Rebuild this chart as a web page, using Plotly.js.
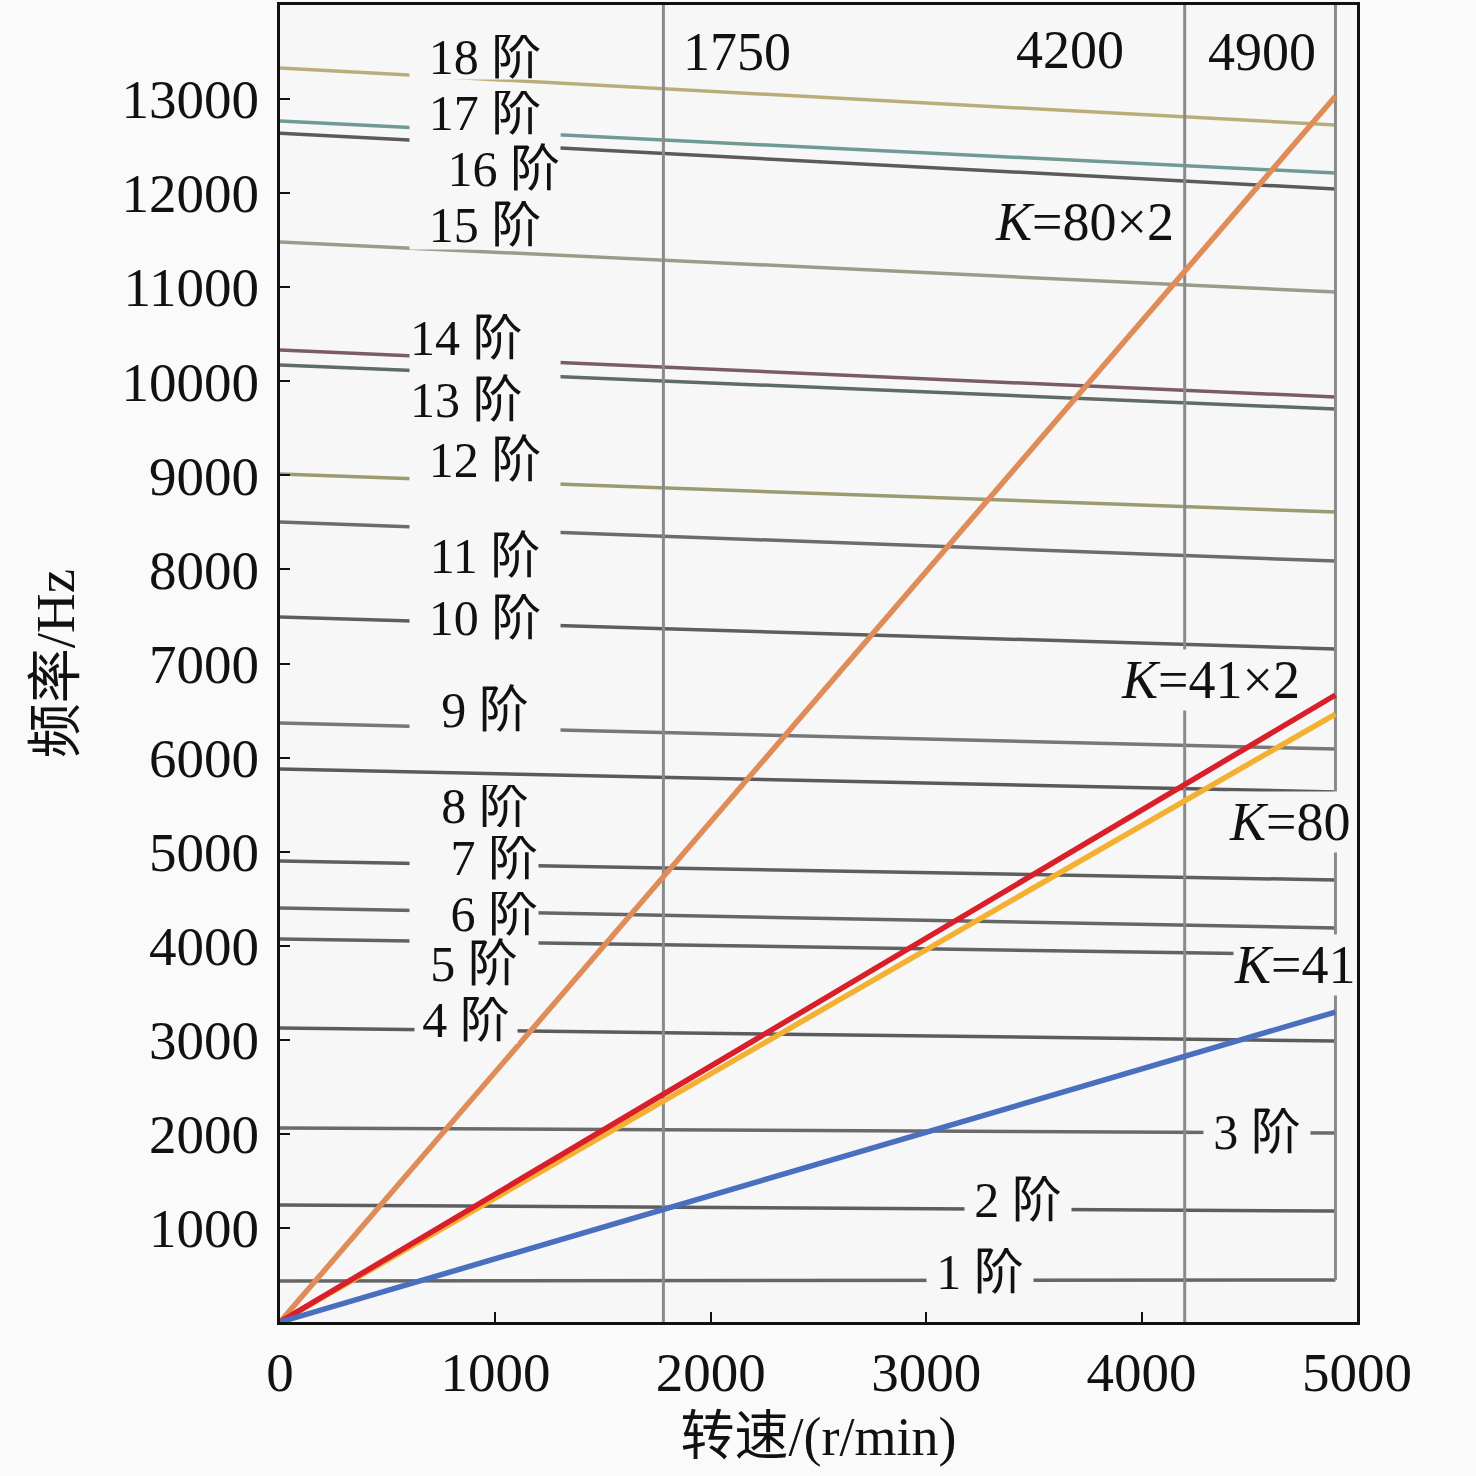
<!DOCTYPE html>
<html>
<head>
<meta charset="utf-8">
<script src="https://cdn.plot.ly/plotly-3.0.1.min.js"></script>
<style>
  html, body { margin: 0; padding: 0; background: #fafafa; }
  #chart { width: 1476px; height: 1476px; }
</style>
</head>
<body>
<div id="chart"></div>
<script>
// speed range of the mode lines (r/min)
const modeSpeed = [0, 4900];

// natural frequencies at 0 and 4900 r/min, mode 1 .. 18 (Hz)
const modeNames = ["1 阶", "2 阶", "3 阶", "4 阶", "5 阶", "6 阶", "7 阶", "8 阶", "9 阶",
  "10 阶", "11 阶", "12 阶", "13 阶", "14 阶", "15 阶", "16 阶", "17 阶", "18 阶"];
const freqStart = [436, 1244, 2062, 3125, 4071, 4401, 4900, 5878, 6367,
  7494, 8504, 9014, 10173, 10332, 11480, 12638, 12766, 13330];
const freqEnd = [447, 1180, 2009, 2987, 3901, 4188, 4698, 5634, 6091,
  7154, 8089, 8610, 9705, 9833, 10949, 12044, 12214, 12724];

// excitation lines K (end point at 4900 r/min)
const kNames = ["K=80×2", "K=80", "K=41×2", "K=41"];
const kLabels = ["<i>K</i>=80×2", "<i>K</i>=80", "<i>K</i>=41×2", "<i>K</i>=41"];
const kEnd = [13030, 6463, 6665, 3295];

// marked speeds
const markLabels = ["1750", "4200", "4900"];
const markSpeed = [1780, 4200, 4900];
const markBottom = [0, 0, 447];

const xTicks = [0, 1000, 2000, 3000, 4000, 5000];
const yTicks = [1000, 2000, 3000, 4000, 5000, 6000, 7000, 8000, 9000, 10000, 11000, 12000, 13000];

const modeColors = ["#666666", "#5e5e5e", "#6a6a6a", "#5c5c5c", "#626262", "#666666", "#5e5e5e",
  "#5a5a5a", "#777777", "#5e5e5e", "#6c6c6c", "#9c9a70", "#5f6a6a", "#7a5c66", "#9a9c8a",
  "#5a5a5a", "#6f9a96", "#b9ae7a"];
const kColors = ["#e08c58", "#f4b030", "#d81f2a", "#4a6fbf"];

const serif = 'Liberation Serif, "Times New Roman", "Noto Sans CJK SC", serif';
const bg = "#f7f7f7";

const traces = [];
modeNames.forEach((n, i) => {
  traces.push({
    x: modeSpeed, y: [freqStart[i], freqEnd[i]], mode: "lines", name: n,
    line: { color: modeColors[i], width: 3.5 }, hoverinfo: "skip"
  });
});
markSpeed.forEach((s, i) => {
  traces.push({
    x: [s, s], y: [markBottom[i], 14000], mode: "lines", name: markLabels[i],
    line: { color: "#8a8a8a", width: 3 }, hoverinfo: "skip"
  });
});
kNames.forEach((n, i) => {
  traces.push({
    x: [0, 4900], y: [0, kEnd[i]], mode: "lines", name: n,
    line: { color: kColors[i], width: 5.5 }, hoverinfo: "skip"
  });
});

// label box placement: [x (r/min), y (Hz), width, height, align, valign]
const modeLabelPos = [
  [3250, 531, 106, 48, "center", "middle"],
  [3426, 1297, 106, 48, "center", "middle"],
  [4536, 2020, 106, 48, "center", "middle"],
  [862, 3210, 102, 46, "center", "middle"],
  [900, 3795, 128, 54, "center", "bottom"],
  [900, 4340, 128, 44, "right", "middle"],
  [900, 4930, 128, 44, "right", "middle"],
  [950, 5485, 150, 42, "center", "middle"],
  [950, 6506, 150, 56, "center", "top"],
  [950, 7483, 150, 48, "center", "middle"],
  [950, 8174, 150, 62, "center", "bottom"],
  [950, 9152, 150, 58, "center", "top"],
  [950, 9854, 150, 66, "left", "bottom"],
  [950, 10460, 150, 48, "left", "middle"],
  [950, 11661, 150, 48, "center", "middle"],
  [950, 12310, 150, 66, "right", "bottom"],
  [950, 12852, 150, 44, "center", "middle"],
  [950, 13446, 150, 44, "center", "middle"]
];
const annotations = [];
modeNames.forEach((n, i) => {
  const p = modeLabelPos[i];
  annotations.push({
    x: p[0], y: p[1], xref: "x", yref: "y", text: n, showarrow: false,
    width: p[2], height: p[3], align: p[4], valign: p[5], bgcolor: bg, borderpad: 0,
    font: { family: serif, size: 50, color: "#111" }
  });
});
const kLabelPos = [[3737, 11693], [4689, 5315], [4318, 6824], [4712, 3795]];
kLabels.forEach((t, i) => {
  annotations.push({
    x: kLabelPos[i][0], y: kLabelPos[i][1], xref: "x", yref: "y", text: t,
    showarrow: false, bgcolor: bg, borderpad: 0,
    font: { family: serif, size: 54, color: "#111" }
  });
});
const markLabelPos = [[2122, 13500], [3668, 13521], [4559, 13500]];
markLabels.forEach((t, i) => {
  annotations.push({
    x: markLabelPos[i][0], y: markLabelPos[i][1], xref: "x", yref: "y", text: t,
    showarrow: false, font: { family: serif, size: 54, color: "#111" }
  });
});

const layout = {
  width: 1476, height: 1476,
  margin: { l: 280, r: 119, t: 5, b: 154 },
  paper_bgcolor: "#fafafa", plot_bgcolor: bg,
  showlegend: false,
  font: { family: serif, size: 50, color: "#111" },
  xaxis: {
    range: [0, 5000], tickvals: xTicks, ticktext: xTicks.map(String),
    ticks: "inside", ticklen: 10, tickwidth: 2,
    tickcolor: "#111", showgrid: false, zeroline: false,
    showline: true, linecolor: "#111", linewidth: 3, mirror: true,
    tickfont: { family: serif, size: 55 },
    title: { text: "转速/(r/min)", font: { family: serif, size: 54 }, standoff: 16 }
  },
  yaxis: {
    range: [0, 14000], tickvals: yTicks, ticktext: yTicks.map(String),
    ticks: "inside", ticklen: 10, tickwidth: 2, ticklabelstandoff: 7,
    tickcolor: "#111", showgrid: false, zeroline: false,
    showline: true, linecolor: "#111", linewidth: 3, mirror: true,
    tickfont: { family: serif, size: 55 },
    title: { text: "频率/Hz", font: { family: serif, size: 55 }, standoff: 30 }
  },
  annotations: annotations
};

Plotly.newPlot("chart", traces, layout, { staticPlot: true });
</script>
</body>
</html>
